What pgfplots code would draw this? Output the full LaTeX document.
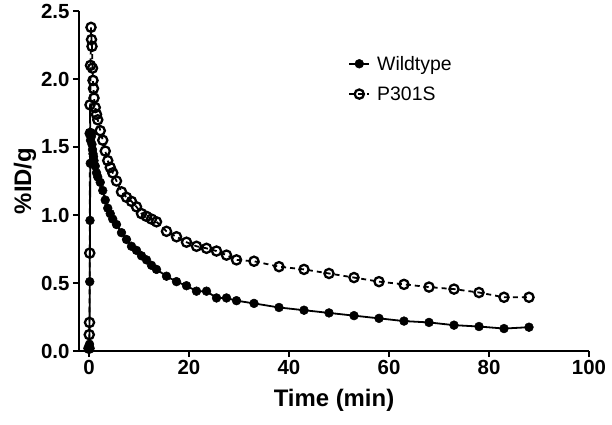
\documentclass[border=0pt]{standalone}
\usepackage{pgfplots}
\usepackage{pgfplotstable}
\pgfplotsset{compat=1.18}
\usepackage{fontspec}
\setmainfont{Liberation Sans}
\newcommand{\legfont}{\fontsize{19.5}{23}\selectfont}
\pgfplotstableread{
t y
0.00 0.02
0.05 0.03
0.10 0.05
0.15 0.51
0.20 0.96
0.25 1.38
0.30 1.55
0.40 1.60
0.50 1.58
0.60 1.52
0.70 1.48
0.80 1.45
0.90 1.43
1.00 1.40
1.25 1.36
1.50 1.31
1.75 1.28
2.25 1.24
2.75 1.18
3.25 1.11
3.75 1.05
4.25 1.01
4.75 0.97
5.5 0.93
6.5 0.87
7.5 0.82
8.5 0.77
9.5 0.74
10.5 0.70
11.5 0.67
12.5 0.63
13.5 0.60
15.5 0.55
17.5 0.51
19.5 0.48
21.5 0.44
23.5 0.44
25.5 0.39
27.5 0.39
29.5 0.37
33 0.35
38 0.32
43 0.30
48 0.28
53 0.26
58 0.24
63 0.22
68 0.21
73 0.19
78 0.18
83 0.165
88 0.175
}\wildtype
\pgfplotstableread{
t y
0.00 0.02
0.05 0.12
0.10 0.21
0.15 0.72
0.20 1.81
0.25 1.60
0.30 2.10
0.40 2.38
0.50 2.29
0.60 2.24
0.70 2.08
0.80 1.99
0.90 1.93
1.00 1.86
1.25 1.79
1.50 1.74
1.75 1.70
2.25 1.62
2.75 1.55
3.25 1.47
3.75 1.40
4.25 1.35
4.75 1.31
5.5 1.25
6.5 1.17
7.5 1.13
8.5 1.10
9.5 1.06
10.5 1.01
11.5 0.99
12.5 0.97
13.5 0.95
15.5 0.88
17.5 0.84
19.5 0.80
21.5 0.77
23.5 0.755
25.5 0.735
27.5 0.705
29.5 0.67
33 0.66
38 0.62
43 0.60
48 0.57
53 0.54
58 0.51
63 0.49
68 0.47
73 0.455
78 0.43
83 0.395
88 0.395
}\ptau
\begin{document}
\begin{tikzpicture}
\begin{axis}[
  at={(0bp,0bp)}, anchor=south west,
  scale only axis, width=510bp, height=340bp,
  xmin=-2, xmax=100, ymin=0, ymax=2.5,
  clip=false,
  axis x line=bottom, axis y line=left,
  axis line style={-, line width=2.6bp},
  tick style={line width=2.6bp, black},
  tick align=outside, major tick length=6bp,
  xtick={0,20,40,60,80,100},
  ytick={0,0.5,1,1.5,2,2.5},
  yticklabel style={/pgf/number format/.cd, fixed, fixed zerofill, precision=1},
  /pgf/number format/assume math mode=true,
  tick label style={font=\bfseries\fontsize{20.5}{20.5}\selectfont},
  xlabel={Time (min)}, ylabel={\%ID/g},
  label style={font=\bfseries\fontsize{24}{24}\selectfont},
  xlabel style={yshift=-7bp},
  ylabel style={yshift=-2bp},
  legend style={at={(0.522,0.88)}, anchor=north west, draw=none, fill=none,
    font=\legfont, nodes={font=\legfont, inner sep=2bp}, row sep=11bp, column sep=5bp},
  legend cell align=left,
  legend image code/.code={\draw[mark repeat=2,mark phase=2,#1] plot coordinates {(0bp,0bp) (10bp,0bp) (20bp,0bp)};},
]
\addplot[black, line width=1.8bp, mark=*, mark size=4.4bp, mark options={solid, fill=black, line width=0.5bp}] table[x=t,y=y]{\wildtype};
\addlegendentry{Wildtype}
\addplot[black, line width=1.8bp, dash pattern=on 5bp off 4bp, mark=o, mark size=4.6bp, mark options={solid, fill=white, line width=2.3bp}] table[x=t,y=y]{\ptau};
\addlegendentry{P301S}
\end{axis}
\path (-79bp,-74bp) rectangle (533bp,351bp);
\end{tikzpicture}
\end{document}
